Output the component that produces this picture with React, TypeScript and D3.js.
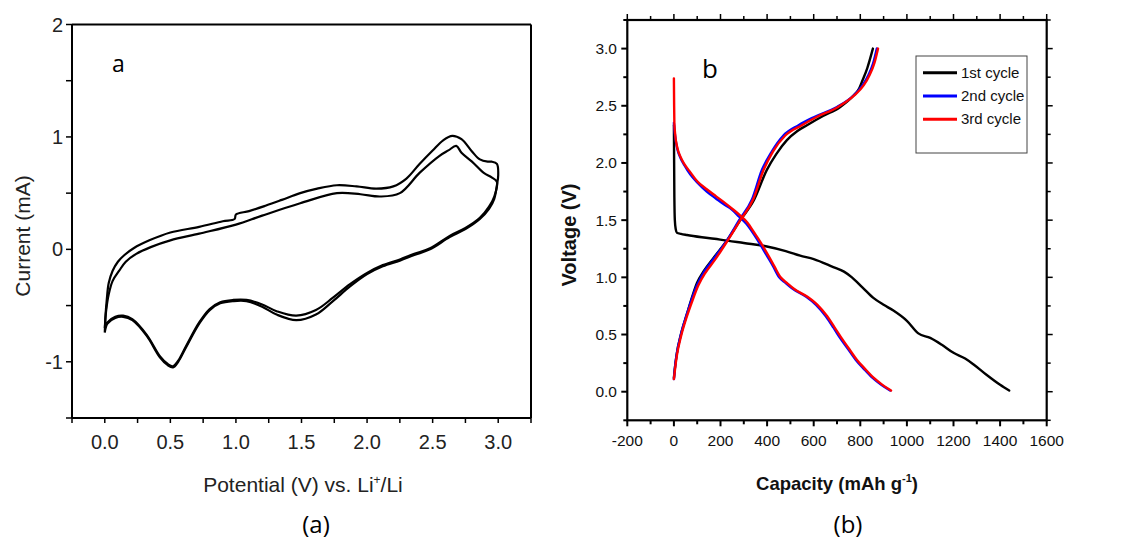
import React from 'react';
import * as d3 from 'd3';

// ---- panel (a): cyclic voltammetry, [potential V, current mA]
const cvAnodic1: [number, number][] = [
  [0.0, -0.74], [0.005, -0.6], [0.015, -0.45], [0.03, -0.3], [0.06, -0.19], [0.1, -0.11],
  [0.15, -0.05], [0.22, 0.01], [0.34, 0.08], [0.5, 0.15], [0.72, 0.2], [0.9, 0.25],
  [0.99, 0.27], [1.0, 0.31], [1.1, 0.34], [1.23, 0.39], [1.35, 0.44], [1.49, 0.5],
  [1.62, 0.54], [1.77, 0.57], [1.92, 0.56], [2.07, 0.54], [2.2, 0.56], [2.3, 0.63],
  [2.4, 0.76], [2.5, 0.88], [2.58, 0.97], [2.65, 1.01], [2.72, 0.98], [2.8, 0.87],
  [2.86, 0.8], [2.92, 0.78], [2.95, 0.78], [2.99, 0.76], [3.0, 0.66], [2.99, 0.57],
];
const cvCathodic1: [number, number][] = [
  [2.97, 0.45], [2.93, 0.36], [2.86, 0.27], [2.75, 0.18], [2.63, 0.11], [2.48, 0.0],
  [2.36, -0.05], [2.25, -0.1], [2.12, -0.15], [2.0, -0.22], [1.87, -0.33], [1.74, -0.46],
  [1.61, -0.58], [1.46, -0.63], [1.31, -0.58], [1.2, -0.51], [1.08, -0.46], [0.98, -0.46],
  [0.88, -0.48], [0.8, -0.54], [0.72, -0.66], [0.62, -0.87], [0.56, -1.0], [0.52, -1.05],
  [0.48, -1.03], [0.42, -0.96], [0.32, -0.77], [0.21, -0.63], [0.14, -0.6], [0.08, -0.61],
  [0.02, -0.66], [0.0, -0.74],
];
const cvAnodic2: [number, number][] = [
  [0.0, -0.7], [0.01, -0.55], [0.03, -0.4], [0.06, -0.28], [0.11, -0.19], [0.16, -0.11],
  [0.24, -0.04], [0.35, 0.02], [0.5, 0.08], [0.72, 0.14], [1.0, 0.22], [1.2, 0.3],
  [1.49, 0.41], [1.77, 0.5], [1.95, 0.49], [2.1, 0.47], [2.25, 0.5], [2.4, 0.68],
  [2.55, 0.83], [2.62, 0.88], [2.68, 0.92], [2.72, 0.86], [2.8, 0.78], [2.89, 0.68],
  [2.95, 0.64], [2.99, 0.6],
];
const cvCathodic2: [number, number][] = [
  [2.97, 0.47], [2.93, 0.38], [2.86, 0.28], [2.75, 0.19], [2.63, 0.12], [2.48, 0.01],
  [2.36, -0.04], [2.25, -0.09], [2.12, -0.14], [2.0, -0.21], [1.87, -0.31], [1.74, -0.43],
  [1.61, -0.54], [1.46, -0.59], [1.31, -0.55], [1.2, -0.49], [1.08, -0.45], [0.98, -0.45],
  [0.88, -0.47], [0.8, -0.53], [0.72, -0.65], [0.62, -0.86], [0.56, -0.99], [0.52, -1.04],
  [0.48, -1.02], [0.42, -0.95], [0.32, -0.76], [0.21, -0.62], [0.14, -0.59], [0.08, -0.6],
  [0.02, -0.65], [0.0, -0.7],
];

// ---- panel (b): charge/discharge, [capacity mAh/g, voltage V]
const dis1: [number, number][] = [
  [0, 2.33], [1, 2.0], [2, 1.7], [4, 1.5], [8, 1.42], [13, 1.39], [30, 1.38], [56, 1.37],
  [120, 1.35], [199, 1.33], [300, 1.3], [399, 1.27], [480, 1.23], [542, 1.19], [600, 1.16],
  [684, 1.09], [730, 1.05], [764, 1.0], [810, 0.91], [856, 0.82], [900, 0.76], [942, 0.71],
  [1000, 0.62], [1049, 0.51], [1100, 0.47], [1150, 0.41], [1200, 0.34], [1250, 0.29],
  [1285, 0.24], [1340, 0.15], [1400, 0.06], [1439, 0.01],
];
const chg1: [number, number][] = [
  [0, 0.12], [5, 0.22], [13, 0.34], [30, 0.5], [56, 0.68], [80, 0.84], [99, 0.95],
  [130, 1.06], [170, 1.17], [227, 1.32], [285, 1.5], [342, 1.67], [399, 1.94], [440, 2.08],
  [485, 2.2], [530, 2.28], [571, 2.33], [640, 2.41], [714, 2.49], [771, 2.59], [795, 2.65],
  [807, 2.71], [830, 2.83], [854, 3.0],
];
const dis2: [number, number][] = [
  [0, 2.35], [2, 2.3], [5, 2.24], [15, 2.12], [27, 2.05], [45, 1.98], [70, 1.9], [100, 1.83],
  [141, 1.75], [180, 1.69], [213, 1.64], [250, 1.59], [280, 1.53], [310, 1.47], [342, 1.38],
  [370, 1.29], [396, 1.2], [425, 1.1], [452, 1.0], [480, 0.95], [510, 0.9], [568, 0.83],
  [610, 0.76], [652, 0.66], [685, 0.56], [710, 0.48], [745, 0.38], [780, 0.28], [815, 0.2],
  [853, 0.12], [890, 0.06], [928, 0.01],
];
const chg2: [number, number][] = [
  [0, 0.11], [5, 0.22], [13, 0.34], [30, 0.5], [56, 0.68], [80, 0.83], [99, 0.93],
  [130, 1.05], [170, 1.16], [227, 1.32], [280, 1.5], [335, 1.68], [378, 1.94], [420, 2.1],
  [470, 2.24], [535, 2.33], [600, 2.4], [700, 2.49], [771, 2.59], [810, 2.68], [835, 2.77],
  [855, 2.87], [871, 3.0],
];
const dis3: [number, number][] = [
  [0, 2.74], [1, 2.5], [2, 2.35], [5, 2.26], [15, 2.13], [27, 2.06], [45, 1.99], [70, 1.92],
  [100, 1.84], [141, 1.77], [180, 1.71], [213, 1.66], [250, 1.6], [285, 1.54], [315, 1.48],
  [345, 1.39], [374, 1.3], [400, 1.21], [430, 1.1], [458, 1.0], [486, 0.95], [515, 0.9],
  [573, 0.83], [616, 0.76], [658, 0.66], [690, 0.56], [716, 0.48], [750, 0.38], [785, 0.28],
  [820, 0.2], [858, 0.12], [895, 0.06], [932, 0.01],
];
const chg3: [number, number][] = [
  [0, 0.11], [5, 0.2], [13, 0.32], [30, 0.48], [56, 0.66], [80, 0.8], [105, 0.93],
  [135, 1.04], [175, 1.15], [230, 1.32], [285, 1.5], [340, 1.68], [385, 1.94], [425, 2.1],
  [478, 2.24], [549, 2.33], [610, 2.4], [705, 2.49], [774, 2.59], [815, 2.68], [840, 2.77],
  [860, 2.87], [876, 3.0],
];

const cycleNames = ['1st cycle', '2nd cycle', '3rd cycle'];
const cycleColors = ['#000000', '#0000ff', '#ff0000'];

const xTicksA = [0, 0.5, 1.0, 1.5, 2.0, 2.5, 3.0];
const yTicksA = [-1, 0, 1, 2];
const xTicksB = [-200, 0, 200, 400, 600, 800, 1000, 1200, 1400, 1600];
const yTicksB = [0, 0.5, 1.0, 1.5, 2.0, 2.5, 3.0];

const ARIAL = 'Arial, "Liberation Sans", sans-serif';
const CAL = '"Open Sans", "Noto Sans", sans-serif';

export default function App() {
  // panel a scales
  const xA = d3.scaleLinear().domain([-0.25, 3.25]).range([72, 531]);
  const yA = d3.scaleLinear().domain([-1.5, 2]).range([418, 24.5]);
  // panel b scales
  const xB = d3.scaleLinear().domain([-200, 1600]).range([627.3, 1046.7]);
  const yB = d3.scaleLinear().domain([-0.25, 3.25]).range([420.3, 20]);

  const lineA = d3.line<[number, number]>()
    .x(d => xA(d[0])).y(d => yA(d[1]))
    .curve(d3.curveCatmullRom.alpha(0.5));
  const lineB = d3.line<[number, number]>()
    .x(d => xB(d[0])).y(d => yB(d[1]))
    .curve(d3.curveMonotoneX);

  const loop1 = [...cvAnodic1, ...cvCathodic1];
  const loop2 = [...cvAnodic2, ...cvCathodic2];

  const minorA = d3.range(-0.25, 3.26, 0.25);
  const minorAy = d3.range(-1.5, 2.01, 0.5);
  const minorB = d3.range(-200, 1601, 100);
  const minorBy = d3.range(-0.25, 3.26, 0.25);

  const seriesB = [
    { c: 0, d: dis1 }, { c: 0, d: chg1 },
    { c: 1, d: dis2 }, { c: 1, d: chg2 },
    { c: 2, d: dis3 }, { c: 2, d: chg3 },
  ];

  return (
    <svg width={1146} height={541} style={{ position: 'absolute', left: 0, top: 0, background: '#fff' }}>
      {/* ================= panel a ================= */}
      <g>
        <line x1={xA(-0.25)} x2={xA(3.25)} y1={yA(2)} y2={yA(2)} stroke="#000" strokeWidth={2} />
        <line x1={xA(3.25)} x2={xA(3.25)} y1={yA(2)} y2={yA(-1.5)} stroke="#000" strokeWidth={2} />
        <line x1={xA(-0.25)} x2={xA(-0.25)} y1={yA(2)} y2={yA(-1.5)} stroke="#000" strokeWidth={2} />
        <line x1={xA(-0.25)} x2={xA(3.25)} y1={yA(-1.5)} y2={yA(-1.5)} stroke="#000" strokeWidth={2} />
        {minorA.map(t => (
          <line key={'ax' + t} x1={xA(t)} x2={xA(t)} y1={yA(-1.5)} y2={yA(-1.5) + 5} stroke="#000" strokeWidth={1.5} />
        ))}
        {minorAy.map(t => (
          <line key={'ay' + t} x1={xA(-0.25) - 6} x2={xA(-0.25)} y1={yA(t)} y2={yA(t)} stroke="#000" strokeWidth={1.5} />
        ))}
        {xTicksA.map(t => (
          <text key={'axl' + t} x={xA(t)} y={449} textAnchor="middle" fontFamily={ARIAL} fontSize={20} fill="#222">
            {t.toFixed(1)}
          </text>
        ))}
        {yTicksA.map(t => (
          <text key={'ayl' + t} x={63} y={yA(t) + 7} textAnchor="end" fontFamily={ARIAL} fontSize={20} fill="#222">
            {t}
          </text>
        ))}
        <text x={303} y={492} textAnchor="middle" fontFamily={ARIAL} fontSize={21} fill="#222">
          Potential (V) vs. Li<tspan dy={-8} fontSize={12}>+</tspan><tspan dy={8}>/Li</tspan>
        </text>
        <text transform="translate(30,236) rotate(-90)" textAnchor="middle" fontFamily={ARIAL} fontSize={21} fill="#222">
          Current (mA)
        </text>
        <text x={112} y={72} fontFamily={CAL} fontSize={23} fill="#000">a</text>
        <path d={lineA(loop1) ?? ''} fill="none" stroke="#000" strokeWidth={2.2} strokeLinejoin="round" />
        <path d={lineA(loop2) ?? ''} fill="none" stroke="#000" strokeWidth={2.2} strokeLinejoin="round" />
      </g>

      {/* ================= panel b ================= */}
      <g>
        <rect x={xB(-200)} y={yB(3.25)} width={xB(1600) - xB(-200)} height={yB(-0.25) - yB(3.25)}
          fill="none" stroke="#000" strokeWidth={2.2} />
        {minorB.map((t, i) => (
          <g key={'bx' + t}>
            <line x1={xB(t)} x2={xB(t)} y1={yB(-0.25)} y2={yB(-0.25) + (i % 2 === 0 ? 6 : 4)} stroke="#000" strokeWidth={2} />
            <line x1={xB(t)} x2={xB(t)} y1={yB(3.25)} y2={yB(3.25) - (i % 2 === 0 ? 6 : 4)} stroke="#000" strokeWidth={1.5} />
          </g>
        ))}
        {minorBy.map((t, i) => (
          <g key={'by' + t}>
            <line x1={xB(-200) - (i % 2 === 1 ? 6 : 4)} x2={xB(-200)} y1={yB(t)} y2={yB(t)} stroke="#000" strokeWidth={2} />
            <line x1={xB(1600)} x2={xB(1600) + (i % 2 === 1 ? 6 : 4)} y1={yB(t)} y2={yB(t)} stroke="#000" strokeWidth={1.5} />
          </g>
        ))}
        {xTicksB.map(t => (
          <text key={'bxl' + t} x={xB(t)} y={446} textAnchor="middle" fontFamily={ARIAL} fontSize={15.5} fill="#111">
            {t}
          </text>
        ))}
        {yTicksB.map(t => (
          <text key={'byl' + t} x={617} y={yB(t) + 5.5} textAnchor="end" fontFamily={ARIAL} fontSize={15.5} fill="#111">
            {t.toFixed(1)}
          </text>
        ))}
        <text x={837} y={490} textAnchor="middle" fontFamily={ARIAL} fontWeight="bold" fontSize={18.5} fill="#111">
          Capacity (mAh g<tspan dy={-8} fontSize={11}>-1</tspan><tspan dy={8}>)</tspan>
        </text>
        <text transform="translate(576,235) rotate(-90)" textAnchor="middle" fontFamily={ARIAL} fontWeight="bold"
          fontSize={20} fill="#111">
          Voltage (V)
        </text>
        <text x={702} y={78} fontFamily={CAL} fontSize={26} fill="#000">b</text>

        {seriesB.map((s, i) => (
          <path key={'s' + i} d={lineB(s.d) ?? ''} fill="none" stroke={cycleColors[s.c]}
            strokeWidth={2.4} strokeLinejoin="round" strokeLinecap="round" />
        ))}

        {/* legend */}
        <rect x={916} y={56} width={111} height={97} fill="#fff" stroke="#444" strokeWidth={1} />
        {cycleNames.map((n, i) => (
          <g key={n}>
            <line x1={923} x2={957} y1={72.7 + i * 23.3} y2={72.7 + i * 23.3} stroke={cycleColors[i]} strokeWidth={3} />
            <text x={961} y={72.7 + i * 23.3 + 5} fontFamily={ARIAL} fontSize={15} fill="#111">{n}</text>
          </g>
        ))}
      </g>

      {/* sub-captions */}
      <text x={316} y={533} textAnchor="middle" fontFamily={CAL} fontSize={24} fill="#000">(a)</text>
      <text x={848} y={533} textAnchor="middle" fontFamily={CAL} fontSize={24} fill="#000">(b)</text>
    </svg>
  );
}
